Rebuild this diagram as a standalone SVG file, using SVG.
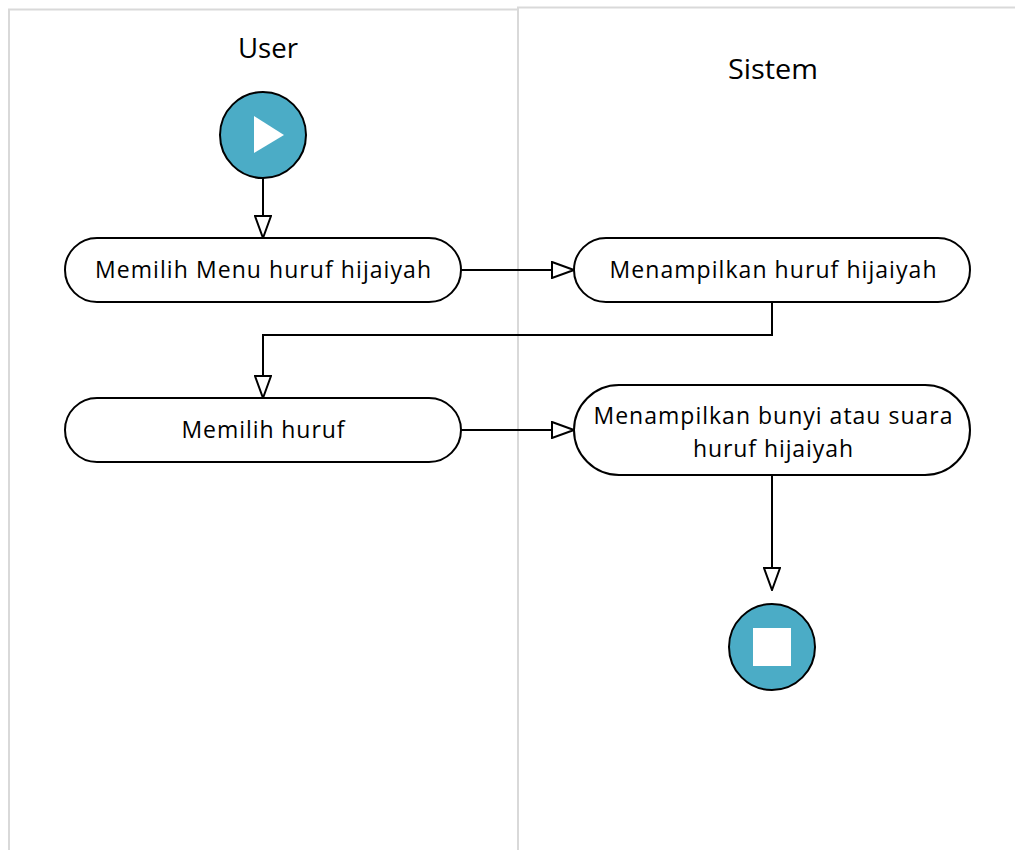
<svg xmlns="http://www.w3.org/2000/svg" width="1015" height="850" viewBox="0 0 1015 850">
<defs>
<style>
.lane{fill:#ffffff;stroke:#d9d9d9;stroke-width:2}
.act{fill:#ffffff;stroke:#000000;stroke-width:2}
.lbl{font-family:"Open Sans","Liberation Sans",Arial,sans-serif;font-size:23px;fill:#000000;text-anchor:middle}
.title{font-family:"Open Sans","Liberation Sans",Arial,sans-serif;font-size:28px;fill:#000000;text-anchor:middle}
.term{fill:#4bacc6;stroke:#000000;stroke-width:2}
.conn{fill:none;stroke:#000000;stroke-width:2}
</style>
<marker id="ah" markerWidth="24" markerHeight="18" refX="23" refY="9" orient="auto" markerUnits="userSpaceOnUse">
<path d="M1,1 L23,9 L1,17 Z" fill="#ffffff" stroke="#000000" stroke-width="2"/>
</marker>
</defs>
<rect width="1015" height="850" fill="#ffffff"/>
<g id="lane-user">
<path class="lane" d="M9,851 L9,9.5 L518,9.5"/>
<text class="title" x="268" y="58" textLength="60" lengthAdjust="spacingAndGlyphs">User</text>
</g>
<g id="lane-sistem">
<path class="lane" d="M518,851 L518,7.5 L1016,7.5"/>
<text class="title" x="773" y="79" textLength="90" lengthAdjust="spacingAndGlyphs">Sistem</text>
</g>
<g id="connectors">
<path class="conn" d="M263,178 L263,238" marker-end="url(#ah)"/>
<path class="conn" d="M461,270 L574,270" marker-end="url(#ah)"/>
<path class="conn" d="M772,302 L772,335 L263,335 L263,398" marker-end="url(#ah)"/>
<path class="conn" d="M461,430 L574,430" marker-end="url(#ah)"/>
<path class="conn" d="M772,475 L772,590" marker-end="url(#ah)"/>
</g>
<g id="start">
<circle class="term" cx="263" cy="135" r="43"/>
<polygon points="254,116 284,135 254,153" fill="#ffffff"/>
</g>
<g id="n1">
<rect class="act" x="65" y="238" width="396" height="64" rx="32" ry="32"/>
<text class="lbl" x="263" y="278" textLength="336" lengthAdjust="spacing">Memilih Menu huruf hijaiyah</text>
</g>
<g id="n2">
<rect class="act" x="574" y="238" width="396" height="64" rx="32" ry="32"/>
<text class="lbl" x="773" y="278" textLength="327" lengthAdjust="spacing">Menampilkan huruf hijaiyah</text>
</g>
<g id="n3">
<rect class="act" x="65" y="398" width="396" height="64" rx="32" ry="32"/>
<text class="lbl" x="263" y="438" textLength="163" lengthAdjust="spacing">Memilih huruf</text>
</g>
<g id="n4">
<rect class="act" x="574" y="385" width="396" height="90" rx="45" ry="45"/>
<text class="lbl" x="773" y="424" textLength="359" lengthAdjust="spacing">Menampilkan bunyi atau suara</text>
<text class="lbl" x="773" y="457" textLength="160" lengthAdjust="spacing">huruf hijaiyah</text>
</g>
<g id="end">
<circle class="term" cx="772" cy="647" r="43"/>
<rect x="753" y="628" width="38" height="38" fill="#ffffff"/>
</g>
</svg>
